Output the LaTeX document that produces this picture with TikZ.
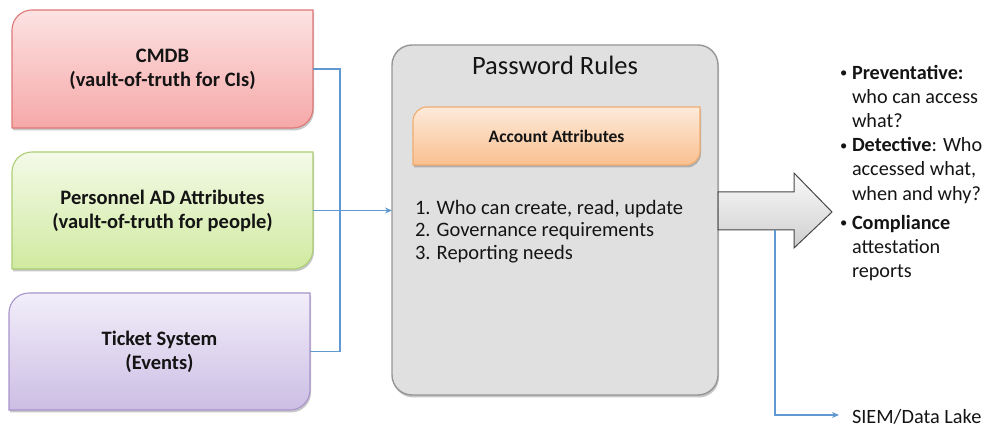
\documentclass[tikz,border=0pt]{standalone}
\usepackage{fontspec}
\setmainfont{Carlito}
\usetikzlibrary{backgrounds,shadows,arrows.meta,calc}

\definecolor{linkblue}{RGB}{96,152,208}
\definecolor{redtop}{RGB}{253,226,226}
\definecolor{redbot}{RGB}{246,168,168}
\definecolor{redline}{RGB}{222,120,120}
\definecolor{greentop}{RGB}{244,250,232}
\definecolor{greenbot}{RGB}{208,234,160}
\definecolor{greenline}{RGB}{172,206,116}
\definecolor{purpletop}{RGB}{242,238,250}
\definecolor{purplebot}{RGB}{204,190,228}
\definecolor{purpleline}{RGB}{168,148,204}
\definecolor{orangetop}{RGB}{253,234,218}
\definecolor{orangebot}{RGB}{250,192,144}
\definecolor{orangeline}{RGB}{240,172,112}
\definecolor{panelfill}{RGB}{224,224,224}
\definecolor{panelline}{RGB}{150,150,150}
\definecolor{inktext}{RGB}{20,20,20}

\tikzset{
  boxtext/.style={minimum width=301pt, minimum height=118pt, inner sep=0pt, outer sep=0pt,
    align=center, text=inktext, font=\fontsize{20.5}{24}\selectfont\bfseries},
  softshadow/.style={drop shadow={shadow xshift=1pt, shadow yshift=-2.5pt, opacity=0.22, fill=black}},
  redbox/.style={softshadow, top color=redtop, bottom color=redbot, draw=redline, line width=1.1pt},
  greenbox/.style={softshadow, top color=greentop, bottom color=greenbot, draw=greenline, line width=1.1pt},
  purplebox/.style={softshadow, top color=purpletop, bottom color=purplebot, draw=purpleline, line width=1.1pt},
  orangebox/.style={softshadow, top color=orangetop, bottom color=orangebot, draw=orangeline, line width=1.1pt},
  panel/.style={softshadow, fill=panelfill, draw=panelline, line width=1.4pt, rounded corners=20pt,
    minimum width=326pt, minimum height=350pt, inner sep=0pt, outer sep=0pt},
  link/.style={draw=linkblue, line width=1.8pt},
  linktip/.style={-{Stealth[length=7pt,width=6pt]}},
  bigarrow/.style={top color=gray!4, bottom color=gray!38, draw=black!72, line width=1pt},
  plain/.style={text=inktext, inner sep=0pt, outer sep=0pt},
}

% rectangle with the top-left and bottom-right corners rounded, around a named node
\newcommand\diagcorners[3]{%
  \path[#2] (#1.south west) -- ([yshift=-#3]#1.north west)
    arc[start angle=180, end angle=90, radius=#3] -- (#1.north east)
    -- ([yshift=#3]#1.south east) arc[start angle=0, end angle=-90, radius=#3] -- cycle;}
% small bullet hanging in a fixed-width box
\newcommand\bul{\makebox[12pt][l]{\raisebox{1.5pt}{\scalebox{0.72}{•}}}}
\newcommand\ind{\hspace*{12pt}}

\begin{document}
\begin{tikzpicture}[x=1pt, y=1pt]
\useasboundingbox (0,0) rectangle (987,430);

% source boxes
\node[boxtext] (cmdb) at (162.5,361) {CMDB\\(vault-of-truth for CIs)};
\node[boxtext, minimum height=117pt] (people) at (162.5,219.5) {Personnel AD Attributes\\(vault-of-truth for people)};
\node[boxtext, minimum height=117pt] (tickets) at (159.5,78.5) {Ticket System\\(Events)};

% rules panel contents
\node[plain, font=\fontsize{26.5}{30}\selectfont] (rulestitle) at (555,365) {Password Rules};
\node[plain, minimum width=287pt, minimum height=58pt, font=\fontsize{17.5}{20}\selectfont\bfseries] (account) at (556.5,294) {Account Attributes};
\node[plain, anchor=north west, align=left, font=\fontsize{20.5}{22.5}\selectfont] (needs) at (415,230)
  {1. Who can create, read, update\\2. Governance requirements\\3. Reporting needs};

% outcomes
\node[plain, anchor=north west, align=left, font=\fontsize{20.2}{24.2}\selectfont] (outcomes) at (840,365) {%
  \bul\textbf{Preventative:}\\
  \ind who can access\\
  \ind what?\\
  \bul\textbf{Detective}: Who\\
  \ind accessed what,\\
  \ind when and why?\\[5pt]
  \bul\textbf{Compliance}\\
  \ind attestation\\
  \ind reports};
\node[plain, anchor=west, font=\fontsize{20.3}{24}\selectfont] (siem) at (852,13) {SIEM/Data Lake};

\begin{scope}[on background layer]
  \node[panel] (rules) at (555,210) {};
  \diagcorners{cmdb}{redbox}{20pt}
  \diagcorners{people}{greenbox}{20pt}
  \diagcorners{tickets}{purplebox}{20pt}
  \diagcorners{account}{orangebox}{14pt}
\end{scope}

% wide arrow leaving the panel
\path[bigarrow] (rules.east |- 0,238) -- (794,238) -- (794,257) -- (832,218)
  -- (794,182) -- (794,200) -- (rules.east |- 0,200) -- cycle;
\coordinate (tap) at (775,200);

% connectors
\draw[link] (cmdb.east) -| (340,220) |- (tickets.east);
\draw[link, linktip] (people.east) -- (rules.west |- people.east);
\draw[link, linktip] (tap) |- ([xshift=-13pt, yshift=2pt]siem.west);
\end{tikzpicture}
\end{document}
